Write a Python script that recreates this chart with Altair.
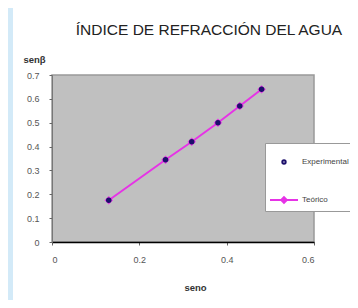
import altair as alt
import pandas as pd

# Data
seno = [0.13, 0.26, 0.32, 0.38, 0.43, 0.48]
senb_experimental = [0.175, 0.345, 0.42, 0.50, 0.57, 0.64]
senb_teorico = [0.175, 0.345, 0.42, 0.50, 0.57, 0.64]
series = ["Experimental", "Teórico"]
x_ticks = [0, 0.2, 0.4, 0.6]
y_ticks = [0, 0.1, 0.2, 0.3, 0.4, 0.5, 0.6, 0.7]

rows = []
for s, b in zip(seno, senb_experimental):
    rows.append({"seno": s, "senb": b, "serie": series[0]})
for s, b in zip(seno, senb_teorico):
    rows.append({"seno": s, "senb": b, "serie": series[1]})
df = pd.DataFrame(rows)

FONT = "Liberation Sans"
NAVY = "#1c0f6b"
MAGENTA = "#e633e6"

x_enc = alt.X(
    "seno:Q",
    scale=alt.Scale(domain=[0, 0.6], nice=False, zero=True),
    axis=alt.Axis(
        values=x_ticks, title="seno", grid=False, format="~g",
        domainColor="#000", domainWidth=1.5, tickColor="#666", tickSize=3,
        labelFont=FONT, labelFontSize=9, labelColor="#555", labelPadding=10,
        titleFont=FONT, titleFontSize=9.5, titleFontWeight="bold", titleColor="#333",
        titleX=143, titleY=40,
    ),
)
y_enc = alt.Y(
    "senb:Q",
    scale=alt.Scale(domain=[0, 0.7], nice=False),
    axis=alt.Axis(
        values=y_ticks, title="senβ", grid=False, format="~g",
        domainColor="#777", domainWidth=1, tickColor="#666", tickSize=3,
        labelFont=FONT, labelFontSize=9, labelColor="#555", labelPadding=10,
        titleFont=FONT, titleFontSize=9.5, titleFontWeight="bold", titleColor="#333",
        titleAngle=0, titleX=-18, titleY=-11, titleAlign="center",
    ),
)

base = alt.Chart(df)

teo = df[df.serie == series[1]]
exp_ = df[df.serie == series[0]]

line = alt.Chart(teo).mark_line(color=MAGENTA, strokeWidth=2).encode(x=x_enc, y=y_enc)
teo_pts = alt.Chart(teo).mark_point(shape="diamond", filled=True, color=MAGENTA, size=70, opacity=1).encode(x=x_enc, y=y_enc)
exp_pts = alt.Chart(exp_).mark_point(shape="circle", filled=True, color=NAVY, size=30, opacity=1).encode(x=x_enc, y=y_enc)

legend_layer = base.mark_point(filled=False, opacity=0).encode(
    x=x_enc,
    y=y_enc,
    color=alt.Color(
        "serie:N",
        scale=alt.Scale(domain=series, range=[NAVY, MAGENTA]),
        legend=alt.Legend(
            title=None, orient="none", legendX=213, legendY=68,
            fillColor="#ffffff", strokeColor="#999", padding=4, rowPadding=17,
            symbolSize=784, symbolStrokeWidth=2, symbolOpacity=1,
            labelFont=FONT, labelFontSize=8, labelColor="#444", labelOffset=3,
        ),
    ),
    shape=alt.Shape(
        "serie:N",
        scale=alt.Scale(
            domain=series,
            range=[
                "M-0.12,0A0.12,0.12,0,1,1,0.12,0A0.12,0.12,0,1,1,-0.12,0Z",
                "M-1,0L1,0M-0.2,0L0,-0.2L0.2,0L0,0.2Z",
            ],
        ),
    ),
)

strip = alt.Chart(pd.DataFrame({"k": [0]})).mark_rect(color="#d3eaf8").encode(
    x=alt.value(-44), x2=alt.value(-39), y=alt.value(-67), y2=alt.value(225)
)

chart = (
    alt.layer(strip, line, teo_pts, exp_pts, legend_layer)
    .resolve_scale(color="independent", shape="independent")
    .properties(
        width=262,
        height=167,
        padding={"left": 44, "top": 67, "right": 36, "bottom": 58},
        autosize=alt.AutoSizeParams(type="none"),
        background="#ffffff",
        title=alt.TitleParams(
            "ÍNDICE DE REFRACCIÓN DEL AGUA", font=FONT, fontSize=15.5,
            fontWeight="normal", color="#222", anchor="middle", dx=26,
            offset=0, dy=30,
        ),
    )
    .configure_view(fill="#c0c0c0", stroke="#999", strokeWidth=1.5)
)

chart.save("out.html", embed_options={"renderer": "svg", "actions": False})
